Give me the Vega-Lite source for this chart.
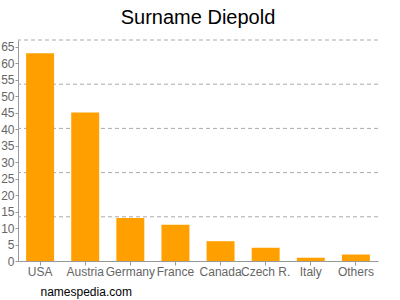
{
  "$schema": "https://vega.github.io/schema/vega-lite/v6.json",
  "width": 360,
  "height": 221,
  "autosize": {"type": "none"},
  "padding": {"left": 18, "top": 40, "right": 22, "bottom": 39},
  "background": "white",
  "title": {"text": "Surname Diepold", "font": "Liberation Sans", "fontSize": 20, "fontWeight": "normal", "color": "#000000", "anchor": "middle", "offset": 12},
  "config": {"view": {"stroke": null}, "axis": {"labelFont": "Liberation Sans", "labelColor": "#666666", "labelFontSize": 12, "domainColor": "#999999", "tickColor": "#999999"}},
  "layer": [
    {
      "data": {"values": [{"g": 13.4}, {"g": 26.8}, {"g": 40.2}, {"g": 53.6}, {"g": 67}]},
      "mark": {"type": "rule", "color": "#aaaaaa", "strokeDash": [4, 3], "strokeWidth": 1},
      "encoding": {"y": {"field": "g", "type": "quantitative", "scale": {"domain": [0, 67], "nice": false},
              "axis": {"values": [0, 5, 10, 15, 20, 25, 30, 35, 40, 45, 50, 55, 60, 65], "grid": false, "title": null, "tickSize": 3, "labelPadding": 1}}}
    },
    {
      "data": {"values": [
        {"country": "USA", "count": 63},
        {"country": "Austria", "count": 45},
        {"country": "Germany", "count": 13},
        {"country": "France", "count": 11},
        {"country": "Canada", "count": 6},
        {"country": "Czech R.", "count": 4},
        {"country": "Italy", "count": 1},
        {"country": "Others", "count": 2}
      ]},
      "mark": {"type": "bar", "color": "#ffa000"},
      "encoding": {
        "x": {"field": "country", "type": "nominal", "sort": null,
              "scale": {"paddingInner": 0.38, "paddingOuter": 0.18},
              "axis": {"labelAngle": 0, "title": "namespedia.com", "titleAnchor": "start", "titleX": 22, "titleY": 25, "titleFont": "Liberation Sans", "titleFontSize": 12, "titleFontWeight": "normal", "titleColor": "#000000", "tickSize": 4, "labelPadding": 1}},
        "y": {"field": "count", "type": "quantitative", "scale": {"domain": [0, 67], "nice": false},
              "axis": {"values": [0, 5, 10, 15, 20, 25, 30, 35, 40, 45, 50, 55, 60, 65], "grid": false, "title": null, "tickSize": 3, "labelPadding": 1}}
      }
    }
  ]
}
